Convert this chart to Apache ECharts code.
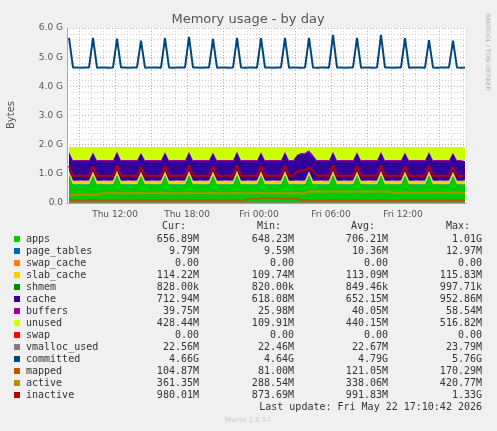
<!DOCTYPE html>
<html><head><meta charset="utf-8">
<script src="https://cdn.jsdelivr.net/npm/echarts@6/dist/echarts.min.js"></script>
<style>html,body{margin:0;padding:0;background:#f0f0f0}#c{width:497px;height:431px}</style>
</head><body><div id="c"></div>
<script>
// x: hours since Thu 00:00; first sample Thu 08:10, step 20 min
const startHour = 8 + 10/60;
const stepHour = 1/3;
// values in MiB
const apps = [
1000,660,658,662,657,661, 980,660,658,662,657,661, 1010,660,658,662,657,661,
970,660,658,662,657,661, 990,660,658,662,657,661, 1000,660,658,662,657,661,
980,660,658,662,657,661, 1010,660,658,662,657,661, 990,660,658,662,657,661,
1000,660,658,662,657,661, 985,660,658,662,657,661, 1005,660,658,662,657,661,
990,660,658,662,657,661, 1000,660,658,662,657,661, 980,660,658,662,657,661,
995,660,658,662,657,661, 970,660,658,662];
const page_tables = [
12,10,10,10,10,10, 12,10,10,10,10,10, 12,10,10,10,10,10, 12,10,10,10,10,10,
12,10,10,10,10,10, 12,10,10,10,10,10, 12,10,10,10,10,10, 12,10,10,10,10,10,
12,10,10,10,10,10, 12,10,10,10,10,10, 12,10,10,10,10,10, 12,10,10,10,10,10,
12,10,10,10,10,10, 12,10,10,10,10,10, 12,10,10,10,10,10, 12,10,10,10,10,10, 12,10,10,10];
const swap_cache = [
0,0,0,0,0,0, 0,0,0,0,0,0, 0,0,0,0,0,0, 0,0,0,0,0,0, 0,0,0,0,0,0, 0,0,0,0,0,0,
0,0,0,0,0,0, 0,0,0,0,0,0, 0,0,0,0,0,0, 0,0,0,0,0,0, 0,0,0,0,0,0, 0,0,0,0,0,0,
0,0,0,0,0,0, 0,0,0,0,0,0, 0,0,0,0,0,0, 0,0,0,0,0,0, 0,0,0,0];
const slab_cache = [
114,114,114,114,114,114, 114,114,114,114,114,114, 114,114,114,114,114,114, 114,114,114,114,114,114,
114,114,114,114,114,114, 114,114,114,114,114,114, 114,114,114,114,114,114, 114,114,114,114,114,114,
114,114,114,114,114,114, 114,114,114,114,114,114, 114,114,114,114,114,114, 114,114,114,114,114,114,
114,114,114,114,114,114, 114,114,114,114,114,114, 114,114,114,114,114,114, 114,114,114,114,114,114, 114,114,114,114];
const shmem = [
1,1,1,1,1,1, 1,1,1,1,1,1, 1,1,1,1,1,1, 1,1,1,1,1,1, 1,1,1,1,1,1, 1,1,1,1,1,1,
1,1,1,1,1,1, 1,1,1,1,1,1, 1,1,1,1,1,1, 1,1,1,1,1,1, 1,1,1,1,1,1, 1,1,1,1,1,1,
1,1,1,1,1,1, 1,1,1,1,1,1, 1,1,1,1,1,1, 1,1,1,1,1,1, 1,1,1,1];
const cache = [
650,692,690,688,691,689, 650,692,690,688,691,689, 650,692,690,688,691,689,
650,692,690,688,691,689, 650,692,690,688,691,689, 650,692,690,688,691,689,
650,692,690,688,691,689, 650,692,690,688,691,689, 650,692,690,688,691,689,
650,692,690,880,940,950, 700,870,690,688,691,689, 650,692,690,688,691,689,
650,692,690,688,691,689, 650,692,690,688,691,689, 650,692,690,688,691,689,
650,692,690,688,691,689, 650,692,690,688];
const buffers = [
45,40,40,40,40,40, 45,40,40,40,40,40, 45,40,40,40,40,40, 45,40,40,40,40,40,
45,40,40,40,40,40, 45,40,40,40,40,40, 45,40,40,40,40,40, 45,40,40,40,40,40,
45,40,40,40,40,40, 45,40,40,40,40,40, 45,40,40,40,40,40, 45,40,40,40,40,40,
45,40,40,40,40,40, 45,40,40,40,40,40, 45,40,40,40,40,40, 45,40,40,40,40,40, 45,40,40,40];
const unused = [
143,446,450,448,450,448, 163,446,450,448,450,448, 133,446,450,448,450,448,
173,446,450,448,450,448, 153,446,450,448,450,448, 143,446,450,448,450,448,
163,446,450,448,450,448, 133,446,450,448,450,448, 153,446,450,448,450,448,
143,446,450,256,201,187, 108,268,450,448,450,448, 138,446,450,448,450,448,
153,446,450,448,450,448, 143,446,450,448,450,448, 163,446,450,448,450,448,
148,446,450,448,450,448, 173,446,450,448];
const swap = swap_cache.slice();
const vmalloc_used = [
23,22,22,22,22,22, 23,22,22,22,22,22, 23,22,22,22,22,22, 23,22,22,22,22,22,
23,22,22,22,22,22, 23,22,22,22,22,22, 23,22,22,22,22,22, 23,22,22,22,22,22,
23,22,22,22,22,22, 23,22,22,22,22,22, 23,22,22,22,22,22, 23,22,22,22,22,22,
23,22,22,22,22,22, 23,22,22,22,22,22, 23,22,22,22,22,22, 23,22,22,22,22,22, 23,22,22,22];
const committed = [
5800,4760,4755,4750,4760,4755, 5800,4750,4755,4760,4750,4755, 5770,4755,4760,4750,4755,4760,
5700,4750,4755,4755,4760,4750, 5790,4760,4750,4755,4755,4760, 5830,4755,4760,4750,4755,4755,
5760,4750,4755,4760,4750,4755, 5800,4755,4750,4755,4760,4750, 5790,4760,4755,4750,4755,4760,
5800,4750,4760,4755,4750,4755, 5800,4755,4750,4760,4755,4750, 5900,4760,4755,4750,4755,4760,
5800,4750,4755,4760,4750,4755, 5900,4755,4760,4750,4755,4760, 5790,4750,4755,4755,4760,4750,
5720,4760,4750,4755,4755,4760, 5700,4755,4750,4760];
const mapped = [
105,100,100,100,100,100, 105,100,100,100,100,100, 105,100,100,100,100,100,
105,100,100,100,100,100, 105,100,100,100,100,100, 105,100,100,100,100,100,
105,100,100,100,100,100, 105,100,100,150,150,150, 160,165,170,160,155,150,
155,150,150,150,100,100, 105,100,100,100,100,100, 105,100,100,100,100,100,
105,100,100,100,100,100, 105,100,100,100,100,100, 105,100,100,100,100,100,
105,100,100,100,100,100, 105,100,100,100];
const active = [
295,290,290,290,290,290, 295,290,345,345,345,345, 350,345,345,345,345,345,
350,345,345,345,345,345, 350,345,345,345,345,345, 350,345,345,345,345,345,
350,345,345,345,345,345, 350,345,345,345,345,345, 350,345,345,345,345,345,
350,345,345,345,345,345, 405,400,400,400,400,400, 405,400,400,400,400,400,
405,400,400,400,400,400, 405,400,400,360,360,360, 365,360,360,360,360,360,
365,360,360,360,360,360, 365,360,360,360];
const inactive = [
1300,960,958,962,960,958, 1280,960,958,962,960,958, 1320,960,958,962,960,958,
1260,960,958,962,960,958, 1300,960,958,962,960,958, 1310,960,958,962,960,958,
1290,960,958,962,960,958, 1320,960,958,962,960,958, 1300,960,958,962,960,958,
1300,960,958,1100,1150,1150, 1250,1120,958,962,960,958, 1330,960,958,962,960,958,
1300,960,958,962,960,958, 1310,960,958,962,960,958, 1290,960,958,962,960,958,
1300,960,958,962,960,958, 1270,960,958,962];

const legendNames = ['apps','page_tables','swap_cache','slab_cache','shmem','cache','buffers','unused','swap','vmalloc_used','committed','mapped','active','inactive'];
const legendColors = ['#00CC00','#0066B3','#FF8000','#FFCC00','#008F00','#330099','#990099','#CCFF00','#FF0000','#808080','#00487D','#B35A00','#B38F00','#B30000'];
const curVals = ['656.89M','9.79M','0.00','114.22M','828.00k','712.94M','39.75M','428.44M','0.00','22.56M','4.66G','104.87M','361.35M','980.01M'];
const minVals = ['648.23M','9.59M','0.00','109.74M','820.00k','618.08M','25.98M','109.91M','0.00','22.46M','4.64G','81.00M','288.54M','873.69M'];
const avgVals = ['706.21M','10.36M','0.00','113.09M','849.46k','652.15M','40.05M','440.15M','0.00','22.67M','4.79G','121.05M','338.06M','991.83M'];
const maxVals = ['1.01G','12.97M','0.00','115.83M','997.71k','952.86M','58.54M','516.82M','0.00','23.79M','5.76G','170.29M','420.77M','1.33G'];
const yTicks = ['0.0','1.0 G','2.0 G','3.0 G','4.0 G','5.0 G','6.0 G'];

const baseMs = Date.UTC(2026,4,21);
const H = 3600e3;
const pts = arr => arr.map((v,i)=>[baseMs + (startHour + i*stepHour)*H, v]);
const areaData = [apps,page_tables,swap_cache,slab_cache,shmem,cache,buffers,unused,swap];
const lineData = [vmalloc_used,committed,mapped,active,inactive];

const series = [];
areaData.forEach((arr,k)=>series.push({
  type:'line', name:legendNames[k], stack:'mem', data:pts(arr), showSymbol:false,
  xAxisIndex:0, lineStyle:{width:0}, areaStyle:{color:legendColors[k],opacity:1}, itemStyle:{color:legendColors[k]},
  z:2, zlevel:1, animation:false
}));
lineData.forEach((arr,k)=>series.push({
  type:'line', name:legendNames[9+k], data:pts(arr), showSymbol:false, xAxisIndex:0,
  lineStyle:{width:k===0?1:2,color:legendColors[9+k]}, itemStyle:{color:legendColors[9+k]},
  z:10, zlevel:2, animation:false
}));
// major red vertical grid every 3h (hours axis)
const majorX = [9,12,15,18,21,24,27,30,33,36,39];
series.push({type:'line',data:[],xAxisIndex:1,silent:true,animation:false,zlevel:0,
  markLine:{symbol:'none',silent:true,label:{show:false},
    lineStyle:{color:'#e8a0a0',type:[1,2],width:1},
    data:majorX.map(h=>({xAxis:h}))}, z:1});

const G = 1024;
const mono = 'DejaVu Sans Mono';
const graphics = [];
const hdrY = 226;
[['Cur:',186],['Min:',281],['Avg:',375],['Max:',470]].forEach(([t,x])=>graphics.push({type:'text',x:x,y:hdrY,style:{text:t,font:'10px '+mono,fill:'#333',textAlign:'right',textVerticalAlign:'middle'}}));
legendNames.forEach((n,i)=>{
  const y = 239 + i*12;
  graphics.push({type:'rect',shape:{x:14,y:y-3,width:6,height:6},style:{fill:legendColors[i]}});
  graphics.push({type:'text',x:26,y:y,style:{text:n,font:'10px '+mono,fill:'#333',textVerticalAlign:'middle'}});
  [[curVals,199],[minVals,294],[avgVals,388],[maxVals,482]].forEach(([a,x])=>graphics.push({type:'text',x:x,y:y,style:{text:a[i],font:'10px '+mono,fill:'#333',textAlign:'right',textVerticalAlign:'middle'}}));
});
graphics.push({type:'text',x:482,y:407,style:{text:'Last update: Fri May 22 17:10:42 2026',font:'10px '+mono,fill:'#333',textAlign:'right',textVerticalAlign:'middle'}});
graphics.push({type:'text',x:248,y:420,style:{text:'Munin 2.0.57',font:'7px DejaVu Sans',fill:'#c8c8c8',textAlign:'center',textVerticalAlign:'middle'}});
graphics.push({type:'text',x:248,y:20,style:{text:'Memory usage - by day',font:'13px DejaVu Sans',fill:'#555',textAlign:'center',textVerticalAlign:'middle'}});
graphics.push({type:'text',x:11,y:115,rotation:Math.PI/2,style:{text:'Bytes',font:'10px DejaVu Sans',fill:'#555',textAlign:'center',textVerticalAlign:'middle'}});
graphics.push({type:'text',x:488,y:52,rotation:-Math.PI/2,style:{text:'RRDTOOL / TOBI OETIKER',font:'6px DejaVu Sans',fill:'#b0b0b0',textAlign:'center',textVerticalAlign:'middle'}});

const chart = echarts.init(document.getElementById('c'),null,{renderer:'canvas'});
chart.setOption({
  backgroundColor:'#f0f0f0',
  animation:false,
  grid:{left:67,right:31,top:28,bottom:228,backgroundColor:'#ffffff',show:true,borderWidth:0},
  xAxis:[
   {type:'time',min:baseMs+8*H,max:baseMs+41.25*H,show:false,splitLine:{show:false}},
   {type:'value',min:8,max:41.25,interval:1,position:'bottom',
    axisLine:{show:true,lineStyle:{color:'#aaa'}},
    axisTick:{show:false},
    axisLabel:{color:'#555',fontSize:9,fontFamily:'DejaVu Sans',margin:7,showMinLabel:false,showMaxLabel:false,
      formatter:v=>{ if(v%6!==0) return ''; const d=v<24?'Thu':'Fri'; const h=v%24; return d+' '+(h<10?'0':'')+h+':00'; }},
    splitLine:{show:true,lineStyle:{color:'#d0d0d0',type:[1,2]}}}],
  yAxis:{type:'value',min:0,max:6*G,interval:G,
    axisLine:{show:true,lineStyle:{color:'#aaa'}},
    axisTick:{show:false},
    axisLabel:{color:'#555',fontSize:9,fontFamily:'DejaVu Sans',margin:4,formatter:v=>yTicks[Math.round(v/G)]},
    splitLine:{show:true,lineStyle:{color:'#e8a0a0',type:[1,2]}},
    minorTick:{show:false,splitNumber:5},
    minorSplitLine:{show:true,lineStyle:{color:'#d0d0d0',type:[1,2]}}},
  series:series,
  graphic:graphics
});
</script></body></html>
